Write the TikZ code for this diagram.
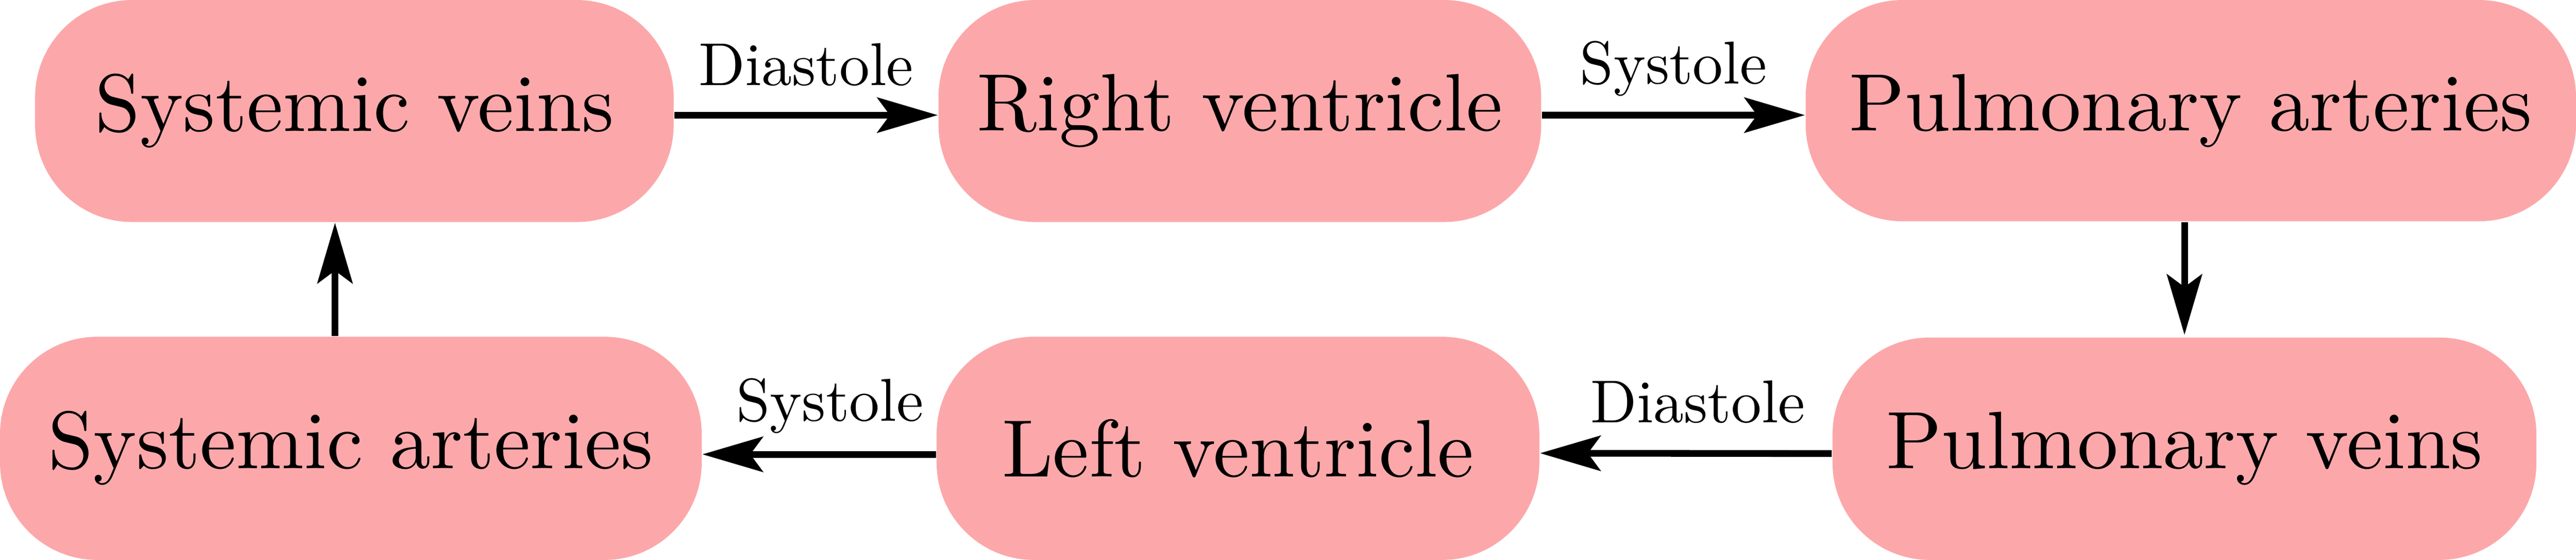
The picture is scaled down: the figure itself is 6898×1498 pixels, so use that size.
\documentclass[tikz,border=0pt]{standalone}
\usetikzlibrary{arrows.meta}
\definecolor{boxpink}{RGB}{252,168,170}
\newcommand{\organtext}[1]{\scalebox{2.18}{\fontsize{10pt}{12pt}\selectfont #1}}
\newcommand{\phasetext}[1]{\scalebox{1.62}{\fontsize{10pt}{12pt}\selectfont #1}}
\tikzset{
  organ/.style={rectangle, fill=boxpink, draw=none, rounded corners=26pt, inner sep=0pt},
  flow/.style={line width=1.8pt, -{Stealth[length=16.2pt, width=9.4pt, inset=3.4pt]}},
  phase/.style={anchor=base, inner sep=0pt}
}
\begin{document}
\begin{tikzpicture}[x=0.1pt, y=-0.1pt]
\useasboundingbox (0,0) rectangle (6898,1498);
% top row
\node[organ, minimum width=171pt, minimum height=59.4pt] (SV) at (949,297) {\organtext{Systemic veins}};
\node[organ, minimum width=161.4pt, minimum height=59.4pt] (RV) at (3320,297) {\organtext{Right ventricle}};
\node[organ, minimum width=206.3pt, minimum height=59.2pt] (PA) at (5866.5,296) {\organtext{Pulmonary arteries}};
% bottom row
\node[organ, minimum width=187.9pt, minimum height=59.7pt] (SA) at (939.5,1199.5) {\organtext{Systemic arteries}};
\node[organ, minimum width=161.4pt, minimum height=59.7pt] (LV) at (3315,1199.5) {\organtext{Left ventricle}};
\node[organ, minimum width=188.5pt, minimum height=59.5pt] (PV) at (5849.5,1200.5) {\organtext{Pulmonary veins}};
% connectors
\draw[flow] ([yshift=-1.1pt]SV.east) -- node[phase, yshift=8pt] {\phasetext{Diastole}} ([yshift=-1.1pt]RV.west);
\draw[flow] ([yshift=-1.1pt]RV.east) -- node[phase, yshift=8.4pt] {\phasetext{Systole}} ([yshift=-1.2pt]PA.west);
\draw[flow] (PA.south -| PV.north) -- ([yshift=0.5pt]PV.north);
\draw[flow] ([yshift=-1.3pt]PV.west) -- node[phase, yshift=8.3pt, xshift=3.2pt] {\phasetext{Diastole}} ([yshift=-1.3pt]LV.east);
\draw[flow] ([yshift=-1.6pt]LV.west) -- node[phase, yshift=8.9pt, xshift=2.9pt] {\phasetext{Systole}} ([yshift=-1.6pt]SA.east);
\draw[flow] ([xshift=-4.25pt]SA.north) -- ([xshift=-5.2pt]SV.south);
\end{tikzpicture}
\end{document}
